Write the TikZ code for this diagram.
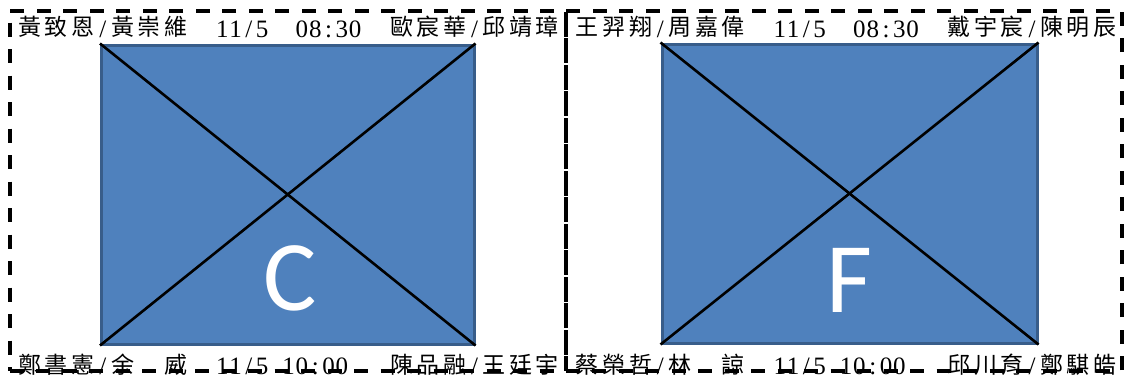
\documentclass[tikz,border=0pt]{standalone}
\usepackage{fontspec}
\setmainfont{Liberation Serif}
\newfontfamily\cjk{Noto Sans CJK TC}
\newfontfamily\lettersf{Carlito}
\definecolor{courtfill}{HTML}{4F81BD}
\definecolor{courtedge}{HTML}{385D8A}
% monospaced grid: half cell 13.27pt, full cell 26.54pt
\newcommand\fwc[1]{\makebox[26.54pt]{\raisebox{1.5pt}{\fontsize{23}{23}\selectfont\cjk #1}}}
\newcommand\hwc[1]{\makebox[13.27pt]{\fontsize{25}{25}\selectfont #1}}
\def\fws#1{\fwsloop#1\relax}
\def\fwsloop#1{\ifx#1\relax\else\fwc{#1}\expandafter\fwsloop\fi}
\def\hws#1{\hwsloop#1\relax}
\def\hwsloop#1{\ifx#1\relax\else\hwc{#1}\expandafter\hwsloop\fi}
\newcommand\hsp[1]{\hskip\dimexpr #1\dimexpr 13.27pt\relax\relax}
\tikzset{
  frame/.style={draw=black, line width=4pt, dash pattern=on 14pt off 12.5pt, inner sep=0pt, minimum width=556pt, minimum height=360pt},
  court/.style={draw=courtedge, fill=courtfill, line width=3pt, inner sep=0pt, minimum height=299pt},
  diag/.style={black, line width=2.6pt},
  letter/.style={text=white, font=\lettersf\fontsize{100}{100}\selectfont, inner sep=0pt},
  info/.style={anchor=base west, inner sep=0pt}
}
\begin{document}
\begin{tikzpicture}[x=1pt, y=-1pt]
\useasboundingbox (0,0) rectangle (1126,378);
% dashed frames
\node[frame] (fl) at (287.5,190.5) {};
\node[frame] (fr) at (843.5,190.5) {};
% courts
\node[court, minimum width=372.5pt] (cl) at (287.75,194.5) {};
\node[court, minimum width=375pt] (cr) at (849.5,193.5) {};
\draw[diag] (cl.north west) -- (cl.south east);
\draw[diag] (cl.north east) -- (cl.south west);
\draw[diag] (cr.north west) -- (cr.south east);
\draw[diag] (cr.north east) -- (cr.south west);
\node[letter] (lc) at (290,278) {C};
\node[letter] (lf) at (849,280) {F};
% texts
\node[info] (tl) at (16.5,37) {\fws{黃致恩}\hwc{/}\fws{黃崇維}\hsp{2}\hws{11/5}\hsp{2}\hws{08:30}\hsp{2}\fws{歐宸華}\hwc{/}\fws{邱靖璋}};
\node[info] (tr) at (574,37) {\fws{王羿翔}\hwc{/}\fws{周嘉偉}\hsp{2}\hws{11/5}\hsp{2}\hws{08:30}\hsp{2}\fws{戴宇宸}\hwc{/}\fws{陳明辰}};
\node[info] (bl) at (16.5,374.5) {\fws{鄭書憲}\hwc{/}\fwc{余}\hsp{2}\fwc{威}\hsp{2}\hws{11/5}\hsp{1}\hws{10:00}\hsp{3}\fws{陳品融}\hwc{/}\fws{王廷宇}};
\node[info] (br) at (574,374.5) {\fws{蔡榮哲}\hwc{/}\fwc{林}\hsp{2}\fwc{諒}\hsp{2}\hws{11/5}\hsp{1}\hws{10:00}\hsp{3}\fws{邱川育}\hwc{/}\fws{鄭騏皓}};
\end{tikzpicture}
\end{document}
